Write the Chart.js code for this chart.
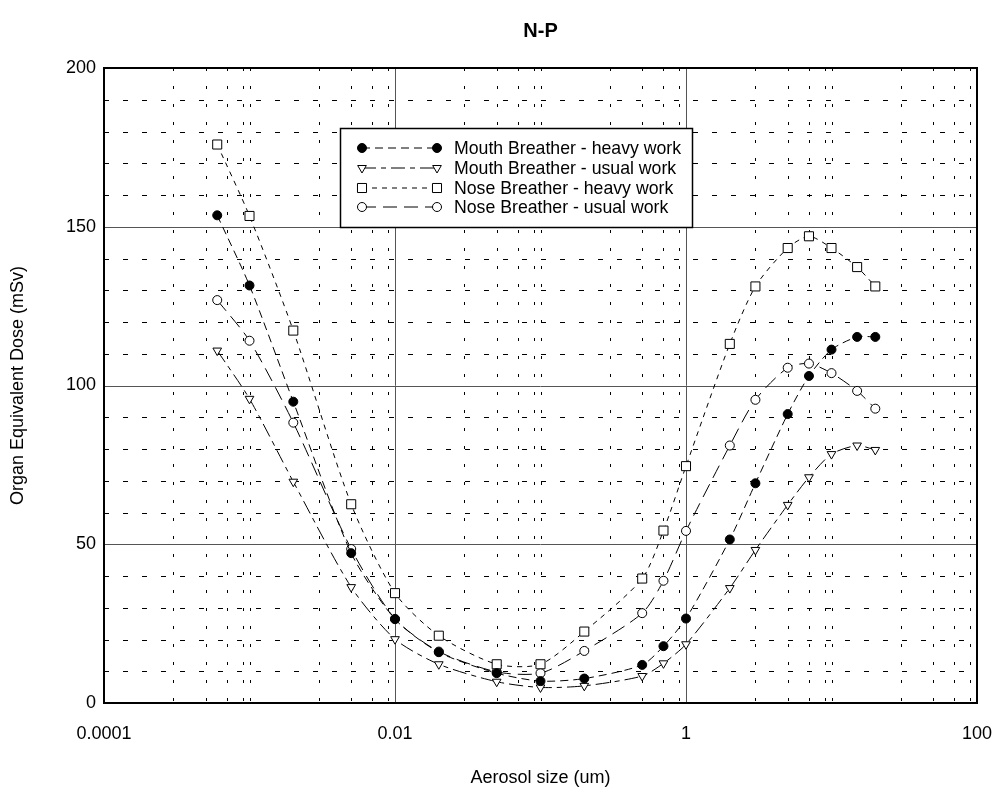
<!DOCTYPE html>
<html><head><meta charset="utf-8">
<script src="https://cdn.jsdelivr.net/npm/chart.js@4/dist/chart.umd.min.js"></script>
<style>html,body{margin:0;padding:0;background:#fff}canvas{display:block}</style>
</head><body>
<canvas id="c" width="1002" height="801"></canvas>
<script>
const chartTitle = 'N-P';
const xAxisTitle = 'Aerosol size (um)';
const yAxisTitle = 'Organ Equivalent Dose (mSv)';
const aerosolSizes = [0.0006, 0.001, 0.002, 0.005, 0.01, 0.02, 0.05, 0.1, 0.2, 0.5, 0.7, 1, 2, 3, 5, 7, 10, 15, 20];
const mouthHeavy = [153.6, 131.5, 94.9, 47.2, 26.4, 16.0, 9.4, 6.9, 7.7, 12.0, 17.9, 26.6, 51.5, 69.2, 91.0, 103.0, 111.3, 115.3, 115.3];
const mouthUsual = [111.0, 95.8, 69.7, 36.5, 20.1, 12.2, 6.7, 4.9, 5.4, 8.5, 12.5, 18.5, 36.2, 48.2, 62.4, 71.1, 78.4, 81.1, 79.7];
const noseHeavy  = [175.9, 153.4, 117.3, 62.6, 34.6, 21.2, 12.2, 12.2, 22.5, 39.2, 54.3, 74.6, 113.1, 131.2, 143.3, 147.0, 143.3, 137.3, 131.2];
const noseUsual  = [126.9, 114.1, 88.3, 48.5, 26.5, 16.2, 9.8, 9.4, 16.4, 28.3, 38.5, 54.2, 81.1, 95.5, 105.6, 106.9, 103.9, 98.3, 92.7];
const seriesNames = ['Mouth Breather - heavy work', 'Mouth Breather - usual work', 'Nose Breather - heavy work', 'Nose Breather - usual work'];
const xMajorTicks = [0.0001, 0.01, 1, 100];
const xTickLabels = ['0.0001', '0.01', '1', '100'];
const xMinorGrid = [0.0003, 0.0005, 0.0007, 0.0009, 0.001, 0.003, 0.005, 0.007, 0.009,
                    0.03, 0.05, 0.07, 0.09, 0.1, 0.3, 0.5, 0.7, 0.9,
                    3, 5, 7, 9, 10, 30, 50, 70, 90];
const yMajorTicks = [0, 50, 100, 150, 200];
const yMinorGrid = [10, 20, 30, 40, 60, 70, 80, 90, 110, 120, 130, 140, 160, 170, 180, 190];

const FONT = "'Liberation Sans', Arial, sans-serif";
Chart.defaults.font.family = FONT;
Chart.defaults.color = '#000';

const styles = [
  {dash: [8, 5], style: 'circle', fill: '#000', r: 4.5, rot: 0},
  {dash: [14, 5, 5, 5], style: 'triangle', fill: '#fff', r: 5, rot: 180},
  {dash: [5, 5], style: 'rect', fill: '#fff', r: 6.4, rot: 0},
  {dash: [14, 7], style: 'circle', fill: '#fff', r: 4.5, rot: 0}
];
const seriesValues = [mouthHeavy, mouthUsual, noseHeavy, noseUsual];

const datasets = seriesValues.map((vals, i) => ({
  label: seriesNames[i],
  data: aerosolSizes.map((x, j) => ({x: x, y: vals[j]})),
  borderColor: '#000', borderWidth: 1, borderDash: styles[i].dash,
  pointStyle: styles[i].style, pointRadius: styles[i].r, pointRotation: styles[i].rot,
  pointBackgroundColor: styles[i].fill, pointBorderColor: '#000', pointBorderWidth: 1,
  tension: 0.25, fill: false
}));

function drawMarker(ctx, st, x, y) {
  ctx.save();
  ctx.setLineDash([]);
  ctx.fillStyle = st.fill; ctx.strokeStyle = '#000'; ctx.lineWidth = 1;
  ctx.beginPath();
  if (st.style === 'circle') { ctx.arc(x, y, st.r, 0, Math.PI * 2); }
  else if (st.style === 'rect') { const s = st.r * Math.SQRT1_2; ctx.rect(x - s, y - s, 2 * s, 2 * s); }
  else { const r = st.r; ctx.moveTo(x, y + r); ctx.lineTo(x - r * 0.866, y - r * 0.5); ctx.lineTo(x + r * 0.866, y - r * 0.5); ctx.closePath(); }
  ctx.fill(); ctx.stroke();
  ctx.restore();
}

const customPlugin = {
  id: 'customDraw',
  beforeDatasetsDraw(chart) {
    const {ctx, chartArea: {left, right, top, bottom}, scales: {x, y}} = chart;
    ctx.save();
    ctx.beginPath(); ctx.rect(left, top, right - left, bottom - top); ctx.clip();
    ctx.strokeStyle = '#000'; ctx.lineWidth = 1;
    ctx.setLineDash([3, 15]);
    xMinorGrid.forEach(v => {
      const px = Math.round(x.getPixelForValue(v)) + 0.5;
      ctx.beginPath(); ctx.moveTo(px, top); ctx.lineTo(px, bottom); ctx.stroke();
    });
    ctx.setLineDash([5, 14]);
    yMinorGrid.forEach(v => {
      const py = Math.round(y.getPixelForValue(v)) + 0.5;
      ctx.beginPath(); ctx.moveTo(left, py); ctx.lineTo(right, py); ctx.stroke();
    });
    ctx.setLineDash([]);
    ctx.strokeStyle = '#555';
    xMajorTicks.forEach(v => {
      const px = Math.round(x.getPixelForValue(v)) + 0.5;
      ctx.beginPath(); ctx.moveTo(px, top); ctx.lineTo(px, bottom); ctx.stroke();
    });
    yMajorTicks.forEach(v => {
      const py = Math.round(y.getPixelForValue(v)) + 0.5;
      ctx.beginPath(); ctx.moveTo(left, py); ctx.lineTo(right, py); ctx.stroke();
    });
    ctx.restore();
  },
  afterDatasetsDraw(chart) {
    const {ctx, chartArea: {left, right, top, bottom}} = chart;
    ctx.save();
    ctx.setLineDash([]);
    ctx.strokeStyle = '#000'; ctx.lineWidth = 2;
    ctx.strokeRect(left, top, right - left, bottom - top);
    // title
    ctx.fillStyle = '#000';
    ctx.font = 'bold 20px ' + FONT;
    ctx.textAlign = 'center'; ctx.textBaseline = 'middle';
    ctx.fillText(chartTitle, (left + right) / 2, 31);
    // legend
    const bx = 340.5, by = 128.5, bw = 352, bh = 99;
    ctx.fillStyle = '#fff'; ctx.fillRect(bx, by, bw, bh);
    ctx.lineWidth = 1.5; ctx.strokeStyle = '#000'; ctx.strokeRect(bx, by, bw, bh);
    ctx.font = '17.7px ' + FONT;
    ctx.textAlign = 'left';
    const rows = [148, 168, 188, 207];
    styles.forEach((st, i) => {
      const yy = rows[i];
      ctx.lineWidth = 1; ctx.strokeStyle = '#000';
      ctx.setLineDash(st.dash);
      ctx.beginPath(); ctx.moveTo(362, yy); ctx.lineTo(437, yy); ctx.stroke();
      drawMarker(ctx, st, 362, yy);
      drawMarker(ctx, st, 437, yy);
      ctx.fillStyle = '#000';
      ctx.fillText(seriesNames[i], 454, yy + 1);
    });
    ctx.restore();
  }
};

new Chart(document.getElementById('c'), {
  type: 'line',
  data: {datasets: datasets},
  plugins: [customPlugin],
  options: {
    responsive: false, animation: false, devicePixelRatio: 1,
    layout: {padding: {top: 68, right: 25, left: 0, bottom: 0}},
    plugins: {legend: {display: false}, title: {display: false}, tooltip: {enabled: false}},
    scales: {
      x: {
        type: 'logarithmic', min: 0.0001, max: 100,
        afterBuildTicks: s => { s.ticks = xMajorTicks.map(v => ({value: v})); },
        afterFit: s => { s.height = 98; s.paddingRight = 0; s.paddingLeft = 0; },
        ticks: {autoSkip: false, maxRotation: 0, padding: 20, font: {size: 18},
          callback: (v) => { const k = xMajorTicks.indexOf(v); return k >= 0 ? xTickLabels[k] : ''; }},
        grid: {display: false, drawTicks: false},
        border: {display: false},
        title: {display: true, text: xAxisTitle, font: {size: 18}, padding: {top: 0, bottom: 12}}
      },
      y: {
        type: 'linear', min: 0, max: 200,
        afterBuildTicks: s => { s.ticks = yMajorTicks.map(v => ({value: v})); },
        afterFit: s => { s.width = 104; s.paddingTop = 0; s.paddingBottom = 0; },
        ticks: {padding: 8, font: {size: 18}},
        grid: {display: false, drawTicks: false},
        border: {display: false},
        title: {display: true, text: yAxisTitle, font: {size: 18}, padding: {top: 7, bottom: 0}}
      }
    }
  }
});
</script>
</body></html>
